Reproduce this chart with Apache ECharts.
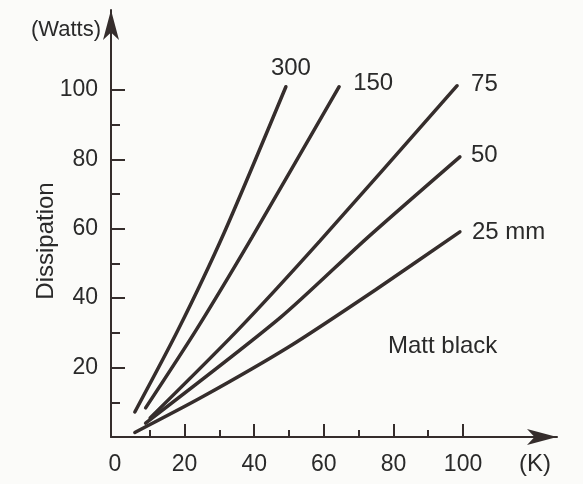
<!DOCTYPE html>
<html><head><meta charset="utf-8">
<script src="https://cdn.jsdelivr.net/npm/echarts@6/dist/echarts.min.js"></script>
<style>html,body{margin:0;padding:0;background:#fbfbf9}#c{width:583px;height:484px}</style>
</head><body><div id="c"></div>
<script>
// Data (x: K, y: Watts)
const seriesNames = ['300', '150', '75', '50', '25 mm'];
const s300 = [[5.7, 7.2], [18.1, 30.8], [31.3, 58.7], [49.1, 100.9]];
const s150 = [[8.8, 8.4], [23.3, 30.8], [39.4, 57.6], [64.4, 100.9]];
const s75  = [[10.1, 5.5], [35, 30.5], [58.9, 56.5], [98.3, 101.2]];
const s50  = [[8.8, 4.0], [47.4, 34.3], [72.4, 57.3], [99.1, 80.7]];
const s25  = [[5.7, 1.3], [25, 11.5], [50, 26], [75, 42.5], [99.1, 59.1]];
const xTickLabels = [0, 20, 40, 60, 80, 100];
const yTickLabels = [20, 40, 60, 80, 100];
const xMajorTicks = [20, 40, 60, 80, 100];
const xMinorTicks = [10, 30, 50, 70, 90];
const yMajorTicks = [20, 40, 60, 80, 100];
const yMinorTicks = [10, 30, 50, 70, 90];

const INK = '#352d2c';
const TXT = '#2a2a2a';
const FONT = 'Liberation Sans';
const allData = [s300, s150, s75, s50, s25];
const labelOffsets = [[-23, -18], [6, -3], [6, -1], [3, -1], [4, 1]];

const chart = echarts.init(document.getElementById('c'), null, {renderer: 'canvas'});
const xBase = {type: 'value', min: -1.15, max: 127, position: 'bottom', splitLine: {show: false}};
const yBase = {type: 'value', min: 0, max: 123, position: 'left', splitLine: {show: false}};
chart.setOption({
  animation: false,
  backgroundColor: '#fbfbf9',
  grid: {left: 111, right: 26, top: 10, bottom: 47, containLabel: false},
  xAxis: [
    Object.assign({}, xBase, {
      axisLine: {show: true, onZero: false, symbol: ['none', 'arrow'], symbolSize: [12, 30], lineStyle: {color: INK, width: 2}},
      axisTick: {show: true, inside: true, length: 13, customValues: xMajorTicks, lineStyle: {color: INK, width: 2}},
      axisLabel: {show: true, customValues: xTickLabels, margin: 16, fontSize: 23, fontFamily: FONT, color: TXT}
    }),
    Object.assign({}, xBase, {
      axisLine: {show: false, onZero: false},
      axisTick: {show: true, inside: true, length: 7, customValues: xMinorTicks, lineStyle: {color: INK, width: 2}},
      axisLabel: {show: false}
    })
  ],
  yAxis: [
    Object.assign({}, yBase, {
      axisLine: {show: true, onZero: false, symbol: ['none', 'arrow'], symbolSize: [12, 30], lineStyle: {color: INK, width: 2}},
      axisTick: {show: true, inside: true, length: 14, customValues: yMajorTicks, lineStyle: {color: INK, width: 2}},
      axisLabel: {show: true, customValues: yTickLabels, margin: 13, fontSize: 23, fontFamily: FONT, color: TXT}
    }),
    Object.assign({}, yBase, {
      axisLine: {show: false, onZero: false},
      axisTick: {show: true, inside: true, length: 9, customValues: yMinorTicks, lineStyle: {color: INK, width: 2}},
      axisLabel: {show: false}
    })
  ],
  series: allData.map((d, i) => ({
    name: seriesNames[i],
    type: 'line',
    xAxisIndex: 0,
    yAxisIndex: 0,
    data: d,
    symbol: 'none',
    smooth: 0.25,
    lineStyle: {color: INK, width: 3.5, cap: 'round'},
    endLabel: {
      show: true,
      formatter: seriesNames[i],
      fontSize: 24,
      fontFamily: FONT,
      color: TXT,
      offset: labelOffsets[i]
    }
  })),
  graphic: [
    {type: 'text', style: {text: '(Watts)', x: 101, y: 30, align: 'right', verticalAlign: 'middle', fontSize: 22, fontFamily: FONT, fill: TXT}},
    {type: 'text', style: {text: '(K)', x: 519, y: 464, align: 'left', verticalAlign: 'middle', fontSize: 24, fontFamily: FONT, fill: TXT}},
    {type: 'text', style: {text: 'Matt black', x: 388, y: 346, align: 'left', verticalAlign: 'middle', fontSize: 24, fontFamily: FONT, fill: TXT}},
    {type: 'text', x: 46, y: 241, rotation: Math.PI / 2, style: {text: 'Dissipation', x: 0, y: 0, align: 'center', verticalAlign: 'middle', fontSize: 24, fontFamily: FONT, fill: TXT}}
  ]
});
</script></body></html>
